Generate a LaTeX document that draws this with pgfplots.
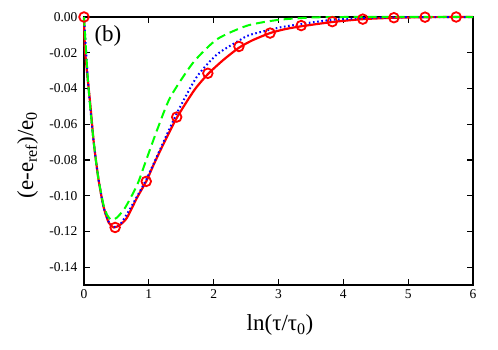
\documentclass[border=0pt]{standalone}
\usepackage{fontspec}
\setmainfont{Liberation Serif}
\usepackage{pgfplots}
\pgfplotsset{compat=1.18}

\begin{document}
\begin{tikzpicture}
\useasboundingbox (-84pt,-64pt) rectangle (414pt,285pt);
\begin{axis}[
  at={(0,0)}, anchor=south west,
  scale only axis, width=389pt, height=268pt,
  xmin=0, xmax=6, ymin=-0.15, ymax=0,
  xtick={0,1,...,6},
  ytick={-0.14,-0.12,-0.10,-0.08,-0.06,-0.04,-0.02,0},
  tick align=inside, tick pos=both,
  major tick length=6pt,
  axis line style={line width=1.5pt},
  every tick/.style={line width=1.2pt, black},
  /pgf/number format/assume math mode=true,
  yticklabel style={xshift=-3pt, /pgf/number format/.cd, fixed, fixed zerofill, precision=2},
  xticklabel style={yshift=-1pt},
  ticklabel style={font=\fontsize{13.5}{15}\selectfont},
  xlabel={ln(τ/τ\textsubscript{0})},
  ylabel={(e-e\textsubscript{ref})/e\textsubscript{0}},
  label style={font=\fontsize{23}{26}\selectfont},
  xlabel style={at={(axis description cs:0.504,-0.15)}, anchor=center},
  ylabel style={at={(axis description cs:-0.145,0.485)}, anchor=center},
  clip=false,
]
% red solid
\addplot[red, line width=2.2pt, smooth, tension=0.4] coordinates {
  (0,0)(0.015,-0.018)(0.05,-0.032)(0.1,-0.05)(0.15,-0.07)(0.22,-0.09)
  (0.3,-0.106)(0.38,-0.115)(0.46,-0.1178)(0.55,-0.1165)(0.66,-0.1125)
  (0.82,-0.101)(0.96,-0.092)(1.07,-0.083)(1.2,-0.073)(1.43,-0.0565)
  (1.7,-0.041)(1.91,-0.032)(2.15,-0.024)(2.39,-0.0172)(2.6,-0.013)
  (2.87,-0.009)(3.1,-0.0068)(3.35,-0.0052)(3.83,-0.0028)(4.3,-0.0012)
  (4.8,-0.0004)(5.3,-0.0001)(6,0)};
% blue dotted
\addplot[blue, line width=2pt, dash pattern=on 1.6pt off 2.6pt, smooth, tension=0.4] coordinates {
  (0,0)(0.02,-0.012)(0.06,-0.035)(0.1,-0.052)(0.15,-0.07)(0.22,-0.09)
  (0.3,-0.106)(0.38,-0.1145)(0.46,-0.1175)(0.55,-0.1165)(0.7,-0.108)
  (0.96,-0.091)(1.17,-0.0744)(1.43,-0.054)(1.74,-0.0335)(2.05,-0.021)
  (2.4,-0.013)(2.56,-0.010)(3.0,-0.006)(3.33,-0.004)(3.8,-0.0017)
  (4.3,-0.0006)(5,-0.0001)(6,0)};
% green dashed
\addplot[green, line width=2pt, dash pattern=on 9pt off 5pt, smooth, tension=0.4] coordinates {
  (0,0)(0.02,-0.012)(0.06,-0.035)(0.1,-0.052)(0.15,-0.07)(0.22,-0.09)
  (0.3,-0.105)(0.36,-0.111)(0.42,-0.1135)(0.5,-0.1125)(0.63,-0.107)
  (0.82,-0.094)(0.96,-0.080)(1.13,-0.063)(1.33,-0.045)(1.68,-0.0257)
  (2.05,-0.0125)(2.52,-0.0048)(3.0,-0.0016)(3.5,-0.0003)(4,0)(6,0)};
% red circles
\addplot[red, only marks, mark=o, mark size=4.8pt, mark options={line width=1.8pt}] coordinates {
  (0,0)(0.48,-0.1178)(0.96,-0.092)(1.43,-0.056)(1.91,-0.0315)(2.39,-0.0165)
  (2.87,-0.009)(3.35,-0.0048)(3.83,-0.0026)(4.30,-0.0012)(4.78,-0.0004)
  (5.26,-0.0001)(5.74,0)};
\node[font=\fontsize{23}{26}\selectfont] at (axis cs:0.37,-0.0106) {(b)};
\end{axis}
\end{tikzpicture}
\end{document}
